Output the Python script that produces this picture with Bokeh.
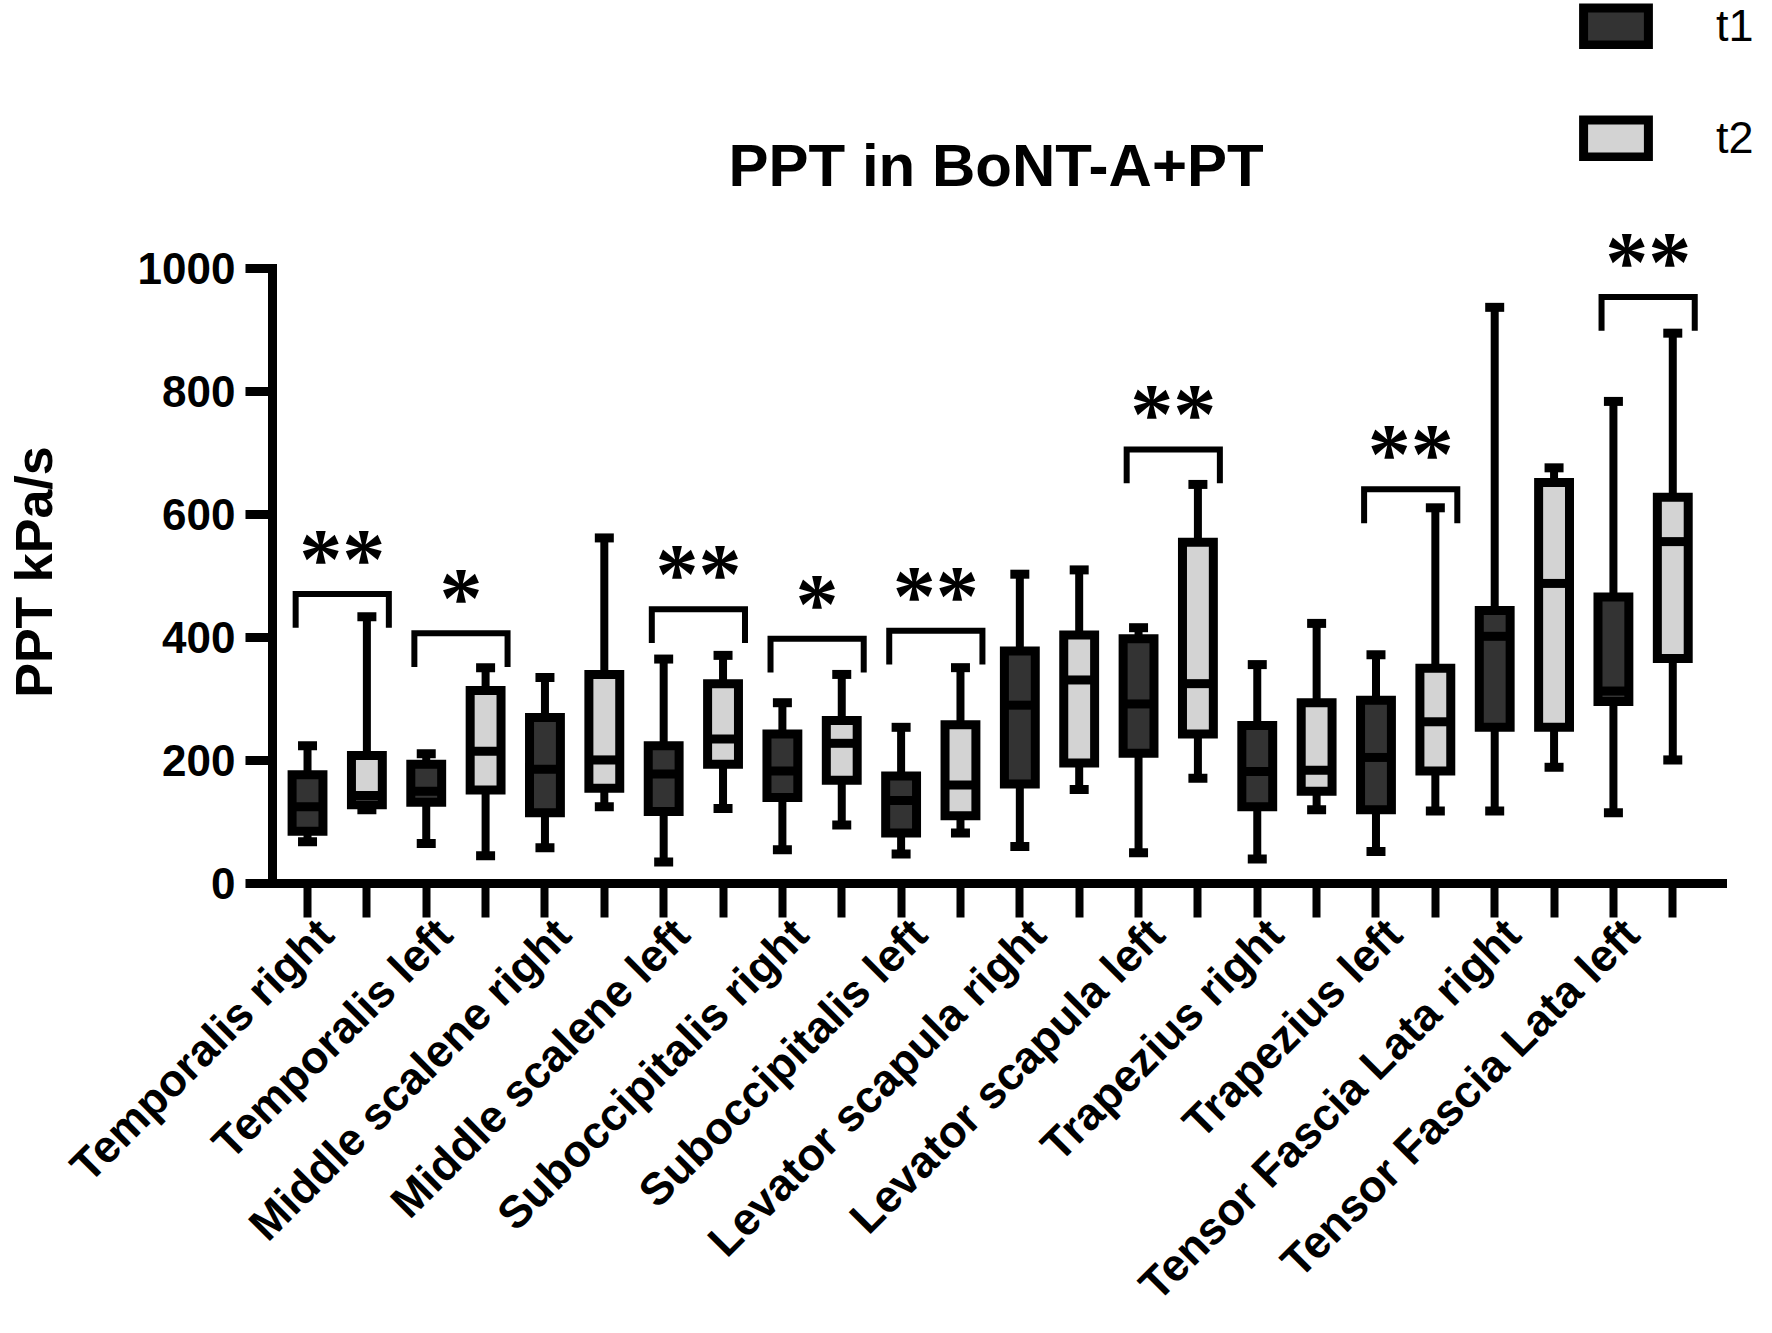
import math
from bokeh.plotting import figure
from bokeh.models import (ColumnDataSource, FixedTicker, Range1d, Legend,
                          LegendItem, Label)
from bokeh.embed import file_html
from bokeh.resources import INLINE

# ---------------- data ----------------
muscles = ["Temporalis right", "Temporalis left", "Middle scalene right",
           "Middle scalene left", "Suboccipitalis right", "Suboccipitalis left",
           "Levator scapula right", "Levator scapula left", "Trapezius right",
           "Trapezius left", "Tensor Fascia Lata right", "Tensor Fascia Lata left"]

t1_min = [68, 65, 58, 35, 55, 48, 60, 50, 40, 52, 118, 115]
t1_q1 = [85, 132, 115, 117, 140, 82, 162, 212, 125, 120, 254, 296]
t1_med = [125, 150, 186, 178, 183, 135, 290, 292, 182, 205, 402, 313]
t1_q3 = [177, 194, 270, 224, 243, 175, 378, 398, 257, 298, 444, 466]
t1_max = [224, 211, 335, 365, 294, 254, 503, 416, 356, 372, 937, 784]

t2_min = [120, 45, 125, 122, 95, 82, 153, 171, 120, 118, 189, 201]
t2_q1 = [128, 152, 155, 194, 168, 110, 196, 243, 150, 183, 254, 366]
t2_med = [143, 215, 201, 235, 228, 160, 331, 325, 184, 263, 488, 556]
t2_q3 = [208, 314, 340, 325, 265, 258, 404, 555, 294, 350, 652, 628]
t2_max = [434, 351, 562, 371, 340, 351, 510, 649, 423, 611, 676, 895]

# significance brackets: group index, bracket height, label
sig_group = [0, 1, 3, 4, 5, 7, 9, 11]
sig_height = [471, 407, 446, 398, 411, 706, 641, 954]
sig_label = ["**", "*", "**", "*", "**", "**", "**", "**"]

y_ticks = [0, 200, 400, 600, 800, 1000]
series_names = ["t1", "t2"]
title_text = "PPT in BoNT-A+PT"
y_title = "PPT kPa/s"

# ---------------- styling ----------------
FONT = "Liberation Sans"
DARK = "#333333"
LIGHT = "#d3d3d3"
BOX_W = 0.52
CAP_W = 0.32
LEG = 55
LABEL_SHIFT = 0.3    # label anchor slightly right of the t1 tick (as in reference)
NBSP = "\u00a0"

n = len(muscles)
x1 = [2 * i + 1 for i in range(n)]
x2 = [2 * i + 2 for i in range(n)]

p = figure(width=1772, height=1333, output_backend="svg", toolbar_location=None,
           x_range=Range1d(0.41, 25.68), y_range=Range1d(0, 1436),
           min_border_left=272, min_border_right=0, min_border_top=0,
           min_border_bottom=450)
p.outline_line_color = None
p.grid.visible = False
p.background_fill_color = "white"
p.border_fill_color = "white"


def draw_series(xs, mn, q1, med, q3, mx, color):
    src = ColumnDataSource(dict(
        x=xs, mn=mn, q1=q1, med=med, q3=q3, mx=mx,
        xl=[v - BOX_W / 2 for v in xs], xr=[v + BOX_W / 2 for v in xs],
        cl=[v - CAP_W / 2 for v in xs], cr=[v + CAP_W / 2 for v in xs]))
    p.segment(x0="x", y0="q3", x1="x", y1="mx", source=src, line_color="black",
              line_width=8, line_cap="butt")
    p.segment(x0="x", y0="q1", x1="x", y1="mn", source=src, line_color="black",
              line_width=8, line_cap="butt")
    p.segment(x0="cl", y0="mx", x1="cr", y1="mx", source=src, line_color="black",
              line_width=9, line_cap="butt")
    p.segment(x0="cl", y0="mn", x1="cr", y1="mn", source=src, line_color="black",
              line_width=9, line_cap="butt")
    r = p.vbar(x="x", width=BOX_W, bottom="q1", top="q3", source=src,
               fill_color=color, line_color="black", line_width=9,
               line_join="miter")
    p.segment(x0="xl", y0="med", x1="xr", y1="med", source=src,
              line_color="black", line_width=9, line_cap="butt")
    return r


r1 = draw_series(x1, t1_min, t1_q1, t1_med, t1_q3, t1_max, DARK)
r2 = draw_series(x2, t2_min, t2_q1, t2_med, t2_q3, t2_max, LIGHT)

# significance brackets
bx, by, sx, sy = [], [], [], []
for g, h in zip(sig_group, sig_height):
    left = 2 * g + 1 - 0.2
    right = 2 * g + 2 + 0.37
    bx.append([left, left, right, right])
    by.append([h - LEG, h, h, h - LEG])
    sx.append((left + right) / 2)
    sy.append(h + 57)
p.multi_line(xs=bx, ys=by, line_color="black", line_width=6,
             line_join="miter", line_cap="butt")
p.text(x=sx, y=sy, text=sig_label, text_align="center",
       text_baseline="alphabetic", text_font_size="86px",
       text_font_style="bold", text_color="black", text_font=FONT)

# chart title
p.add_layout(Label(x=12.6, y=1168, text=title_text, text_align="center",
                   text_baseline="alphabetic", text_font_size="60px",
                   text_font_style="bold", text_color="black", text_font=FONT))

# y axis
ya = p.yaxis[0]
ya.ticker = FixedTicker(ticks=y_ticks)
ya.bounds = (0, 1000)
ya.axis_line_width = 9
ya.axis_line_cap = "square"
ya.axis_line_color = "black"
ya.major_tick_line_width = 9
ya.major_tick_line_color = "black"
ya.major_tick_out = 27
ya.major_tick_in = 0
ya.minor_tick_line_color = None
ya.major_label_text_font = FONT
ya.major_label_text_font_size = "44px"
ya.major_label_text_font_style = "bold"
ya.major_label_text_color = "black"
ya.major_label_standoff = 10
# trailing no-break spaces centre the visible title on the 0-1000 span
ya.axis_label = y_title + NBSP * 18
ya.axis_label_text_font = FONT
ya.axis_label_text_font_size = "52px"
ya.axis_label_text_font_style = "bold"
ya.axis_label_text_color = "black"
ya.axis_label_standoff = 72

# x axis: tick marks as minor ticks, names anchored next to each t1 tick
xa = p.xaxis[0]
tick_pos = sorted(x1 + x2)
label_pos = [v + LABEL_SHIFT for v in x1]
xa.ticker = FixedTicker(ticks=label_pos, minor_ticks=tick_pos)
xa.bounds = (0.41, 24.84)
xa.axis_line_width = 9
xa.axis_line_cap = "square"
xa.axis_line_color = "black"
xa.major_tick_line_color = None
xa.major_tick_out = 0
xa.major_tick_in = 0
xa.minor_tick_line_width = 8
xa.minor_tick_line_color = "black"
xa.minor_tick_out = 34
xa.minor_tick_in = 0
xa.major_label_overrides = {lp: name for lp, name in zip(label_pos, muscles)}
xa.major_label_orientation = math.pi / 4
xa.major_label_text_font = FONT
xa.major_label_text_font_size = "45px"
xa.major_label_text_font_style = "bold"
xa.major_label_text_color = "black"
xa.major_label_standoff = 9

# legend
legend = Legend(items=[LegendItem(label=series_names[0], renderers=[r1]),
                       LegendItem(label=series_names[1], renderers=[r2])],
                location=(1303, 719), glyph_width=81, glyph_height=46,
                label_text_font=FONT, label_text_font_size="45px",
                label_text_color="black", label_standoff=60, spacing=60,
                padding=0, margin=0, border_line_alpha=0,
                background_fill_alpha=0, label_height=46)
p.add_layout(legend)

open("out.html", "w").write(file_html(p, INLINE))
